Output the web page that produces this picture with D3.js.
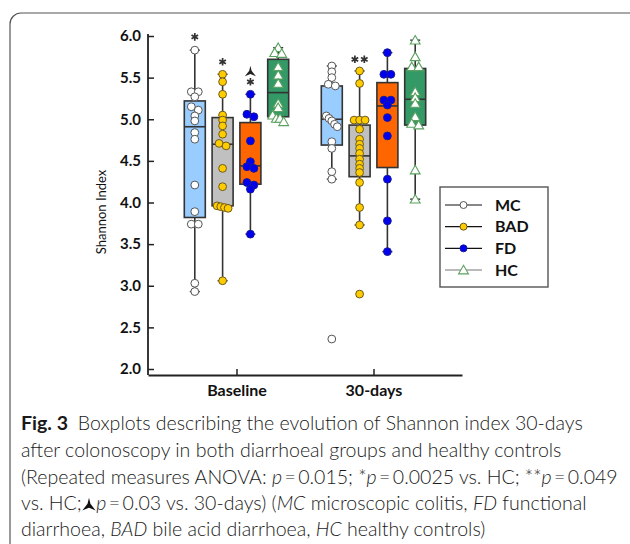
<!DOCTYPE html>
<html>
<head>
<meta charset="utf-8">
<script src="https://cdn.jsdelivr.net/npm/d3@7"></script>
<style>
  body { margin: 0; background: #fff; }
  svg { display: block; }
</style>
</head>
<body>
<div id="chart"></div>
<script>
// categories
const times = ["Baseline", "30-days"];
const groups = ["MC", "BAD", "FD", "HC"];
const yTicks = [2.0, 2.5, 3.0, 3.5, 4.0, 4.5, 5.0, 5.5, 6.0];

// box statistics, one value per group (MC, BAD, FD, HC)
const lowBase  = [2.93, 3.06, 3.62, 4.97];
const q1Base   = [3.82, 3.96, 4.22, 5.03];
const medBase  = [4.91, 4.70, 4.44, 5.32];
const q3Base   = [5.22, 5.02, 4.96, 5.72];
const highBase = [5.83, 5.54, 5.30, 5.86];

const low30  = [4.28, 3.73, 3.41, 4.04];
const q1_30  = [4.69, 4.31, 4.42, 4.93];
const med30  = [5.00, 4.56, 5.16, 5.24];
const q3_30  = [5.40, 4.93, 5.44, 5.61];
const high30 = [5.64, 5.58, 5.80, 5.95];

// individual patients
const mcBase  = [5.83, 5.33, 5.33, 5.27, 5.15, 5.11, 5.04, 4.98, 4.84, 4.76, 4.21, 3.89, 3.74, 3.74, 3.03, 2.93];
const badBase = [5.54, 5.45, 5.30, 5.05, 4.99, 4.92, 4.82, 4.71, 4.68, 4.41, 4.19, 3.96, 3.95, 3.94, 3.93, 3.06];
const fdBase  = [5.30, 5.06, 5.03, 4.74, 4.49, 4.43, 4.41, 4.24, 4.21, 4.16, 3.62];
const hcBase  = [5.86, 5.80, 5.79, 5.63, 5.53, 5.43, 5.19, 5.14, 5.05, 5.01, 5.01, 4.97];

const mc30  = [5.64, 5.57, 5.50, 5.42, 5.40, 5.04, 5.01, 4.98, 4.94, 4.91, 4.73, 4.65, 4.37, 4.28, 2.36];
const bad30 = [5.58, 5.43, 4.99, 4.99, 4.99, 4.88, 4.76, 4.70, 4.65, 4.59, 4.52, 4.46, 4.41, 4.36, 4.24, 3.94, 3.73, 2.90];
const fd30  = [5.80, 5.54, 5.54, 5.23, 5.23, 5.17, 5.02, 4.80, 4.28, 3.78, 3.41];
const hc30  = [5.95, 5.75, 5.63, 5.63, 5.33, 5.26, 5.19, 5.03, 4.95, 4.93, 4.39, 4.04];

// significance marks
const annTime  = ["Baseline", "Baseline", "Baseline", "Baseline", "30-days"];
const annGroup = ["MC", "BAD", "FD", "FD", "BAD"];
const annValue = [5.99, 5.69, 5.45, 5.57, 5.72];
const annKind  = ["*", "*", "*", "arrow", "**"];

const captionLines = [
  [["Fig. 3", "b"], ["\u2002Boxplots describing the evolution of Shannon index 30-days", "n"]],
  [["after colonoscopy in both diarrhoeal groups and healthy controls", "n"]],
  [["(Repeated measures ANOVA: ", "n"], ["p", "i"], ["\u2009=\u20090.015; *", "n"], ["p", "i"],
   ["\u2009=\u20090.0025 vs. HC; **", "n"], ["p", "i"], ["\u2009=\u20090.049", "n"]],
  [["vs. HC;", "n"], ["\u2003", "sym"], ["p", "i"], ["\u2009=\u20090.03 vs. 30-days) (", "n"], ["MC", "i"],
   [" microscopic colitis, ", "n"], ["FD", "i"], [" functional", "n"]],
  [["diarrhoea, ", "n"], ["BAD", "i"], [" bile acid diarrhoea, ", "n"], ["HC", "i"], [" healthy controls)", "n"]]
];

const fills   = {MC: "#99ccff", BAD: "#c0c0c0", FD: "#ff6600", HC: "#339966"};
const dotFill = {MC: "#ffffff", BAD: "#ffcc00", FD: "#0000ee", HC: "#ffffff"};
const dotLine = {MC: "#555555", BAD: "#6b5a20", FD: "#1a1a99", HC: "#5aa05f"};

const stats = [];
[[lowBase, q1Base, medBase, q3Base, highBase, [mcBase, badBase, fdBase, hcBase]],
 [low30, q1_30, med30, q3_30, high30, [mc30, bad30, fd30, hc30]]].forEach((s, ti) => {
  groups.forEach((g, gi) => {
    stats.push({time: times[ti], group: g, low: s[0][gi], q1: s[1][gi], med: s[2][gi],
                q3: s[3][gi], high: s[4][gi], values: s[5][gi]});
  });
});

const svg = d3.select("#chart").append("svg").attr("width", 630).attr("height", 544);

svg.append("rect")
  .attr("x", 10).attr("y", 13).attr("width", 660).attr("height", 600).attr("rx", 11)
  .attr("fill", "none").attr("stroke", "#555").attr("stroke-width", 1.2);

const y = d3.scaleLinear().domain([2, 6]).range([369, 36]);
const x = d3.scalePoint().domain(times).range([148, 462]).padding(0.646);
const xg = d3.scaleBand().domain(groups).range([-55.6, 55.6]);
const boxW = 21;
const cxOf = d => x(d.time) + xg(d.group) + xg.bandwidth() / 2;

// axes
const yAxis = svg.append("g")
  .attr("transform", "translate(148,0)")
  .call(d3.axisLeft(y).tickValues(yTicks).tickSize(-6).tickPadding(7).tickFormat(d3.format(".1f")));
yAxis.select(".domain").remove();
yAxis.selectAll("line").attr("stroke", "#222").attr("stroke-width", 1.5);
yAxis.selectAll("text").attr("font-family", "Lato, sans-serif").attr("font-weight", "bold")
  .attr("font-size", 15).attr("fill", "#111");
svg.append("line").attr("x1", 148).attr("x2", 148).attr("y1", 34).attr("y2", 375)
  .attr("stroke", "#222").attr("stroke-width", 1.8);

const xAxis = svg.append("g")
  .attr("transform", "translate(0,375)")
  .call(d3.axisBottom(x).tickSize(-6).tickSizeOuter(0).tickPadding(10));
xAxis.select(".domain").attr("stroke", "#222").attr("stroke-width", 1.8);
xAxis.selectAll("line").attr("stroke", "#222").attr("stroke-width", 1.5);
xAxis.selectAll("text").attr("font-family", "Lato, sans-serif").attr("font-weight", "bold")
  .attr("font-size", 16).attr("fill", "#111");

svg.append("text")
  .attr("transform", "translate(106,212) rotate(-90)")
  .attr("text-anchor", "middle")
  .attr("font-family", "Lato, sans-serif").attr("font-size", 13).attr("fill", "#111")
  .text("Shannon Index");

// boxes
const box = svg.append("g").selectAll("g").data(stats).enter().append("g");
box.append("line")
  .attr("x1", cxOf).attr("x2", cxOf).attr("y1", d => y(d.low)).attr("y2", d => y(d.high))
  .attr("stroke", "#333").attr("stroke-width", 1.6);
box.selectAll("line.cap").data(d => [[d, d.low], [d, d.high]]).enter().append("line")
  .attr("class", "cap")
  .attr("x1", d => cxOf(d[0]) - 5).attr("x2", d => cxOf(d[0]) + 5)
  .attr("y1", d => y(d[1])).attr("y2", d => y(d[1]))
  .attr("stroke", "#333").attr("stroke-width", 1.4);
box.append("rect")
  .attr("x", d => cxOf(d) - boxW / 2).attr("width", boxW)
  .attr("y", d => y(d.q3)).attr("height", d => y(d.q1) - y(d.q3))
  .attr("fill", d => fills[d.group]).attr("stroke", "#333").attr("stroke-width", 1.6);
box.append("line")
  .attr("x1", d => cxOf(d) - boxW / 2).attr("x2", d => cxOf(d) + boxW / 2)
  .attr("y1", d => y(d.med)).attr("y2", d => y(d.med))
  .attr("stroke", "#333").attr("stroke-width", 1.6);

// spread points that sit on (almost) the same value
function spread(vals, cx) {
  const sorted = vals.slice().sort((a, b) => b - a);
  const out = [];
  let cluster = [];
  const flush = () => {
    const n = cluster.length;
    const step = n > 1 ? Math.min(7, 11 / (n - 1)) : 0;
    cluster.forEach((v, i) => out.push({x: cx + (i - (n - 1) / 2) * step, y: y(v)}));
    cluster = [];
  };
  sorted.forEach(v => {
    if (cluster.length && Math.abs(y(v) - y(cluster[cluster.length - 1])) > 3.8) flush();
    cluster.push(v);
  });
  flush();
  return out;
}

function marker(sel, group) {
  if (group === "HC") {
    sel.append("path").attr("d", d3.symbol(d3.symbolTriangle, 42)())
      .attr("fill", "#fff").attr("stroke", dotLine.HC).attr("stroke-width", 1.1);
  } else {
    sel.append("circle").attr("r", 3.9)
      .attr("fill", dotFill[group]).attr("stroke", dotLine[group]).attr("stroke-width", 1);
  }
}

stats.forEach(d => {
  const pts = spread(d.values, cxOf(d));
  svg.append("g").selectAll("g").data(pts).enter().append("g")
    .attr("transform", p => `translate(${p.x},${p.y + (d.group === "HC" ? 1 : 0)})`)
    .each(function() { marker(d3.select(this), d.group); });
});

// significance marks
const arrowPath = "M0,-6 L1.2,-1 L5.5,4.5 L0,2.2 L-5.5,4.5 L-1.2,-1 Z";
const star = d3.symbol(d3.symbolAsterisk, 40)();
annKind.forEach((k, i) => {
  const cx = x(annTime[i]) + xg(annGroup[i]) + xg.bandwidth() / 2;
  const cy = y(annValue[i]);
  const offs = k === "**" ? [-4.7, 4.7] : [0];
  offs.forEach(o => {
    if (k === "arrow") {
      svg.append("path").attr("d", arrowPath).attr("transform", `translate(${cx + o},${cy})`)
        .attr("fill", "#222");
    } else {
      svg.append("path").attr("d", star).attr("transform", `translate(${cx + o},${cy})`)
        .attr("fill", "none").attr("stroke", "#333").attr("stroke-width", 1.7);
    }
  });
});

// legend
const legend = svg.append("g");
legend.append("rect").attr("x", 440).attr("y", 187).attr("width", 108).attr("height", 100)
  .attr("fill", "#fff").attr("stroke", "#555").attr("stroke-width", 1.4);
const rowY = d3.scalePoint().domain(groups).range([205, 270]);
groups.forEach(g => {
  const row = legend.append("g").attr("transform", `translate(0,${rowY(g)})`);
  row.append("line").attr("x1", 445).attr("x2", 482)
    .attr("stroke", g === "HC" ? "#777" : "#111").attr("stroke-width", 1.2);
  const m = row.append("g").attr("transform", `translate(463.5,${g === "HC" ? 1 : 0})`);
  marker(m, g);
  m.select("circle").attr("r", 3.5);
  row.append("text").attr("x", 495).attr("dy", "0.35em")
    .attr("font-family", "Lato, sans-serif").attr("font-weight", "bold").attr("font-size", 16)
    .attr("fill", "#111").text(g);
});

// caption
const capX = 21;
const capY = [430, 457, 484, 510, 536];
const capText = captionLines.map((line, li) => {
  const t = svg.append("text").attr("x", capX).attr("y", capY[li])
    .attr("font-family", "Lato, 'Open Sans', sans-serif").attr("font-weight", 300)
    .attr("font-size", 20).attr("fill", "#1a1a1a");
  line.forEach(seg => {
    const ts = t.append("tspan").text(seg[0]);
    if (seg[1] === "b") ts.attr("font-weight", "bold");
    if (seg[1] === "i") ts.attr("font-style", "italic");
  });
  return t;
});
const k = 597 / capText[2].node().getComputedTextLength();
capText.forEach(t => t.attr("font-size", 20 * k));
// place the arrow symbol on line 4
const l4 = capText[3].node();
const symIndex = "vs. HC;".length;
const p0 = l4.getStartPositionOfChar(symIndex);
const p1 = l4.getEndPositionOfChar(symIndex);
svg.append("path").attr("d", arrowPath)
  .attr("transform", `translate(${(p0.x + p1.x) / 2},${capY[3] - 5}) scale(1.2)`)
  .attr("fill", "#111");
</script>
</body>
</html>
